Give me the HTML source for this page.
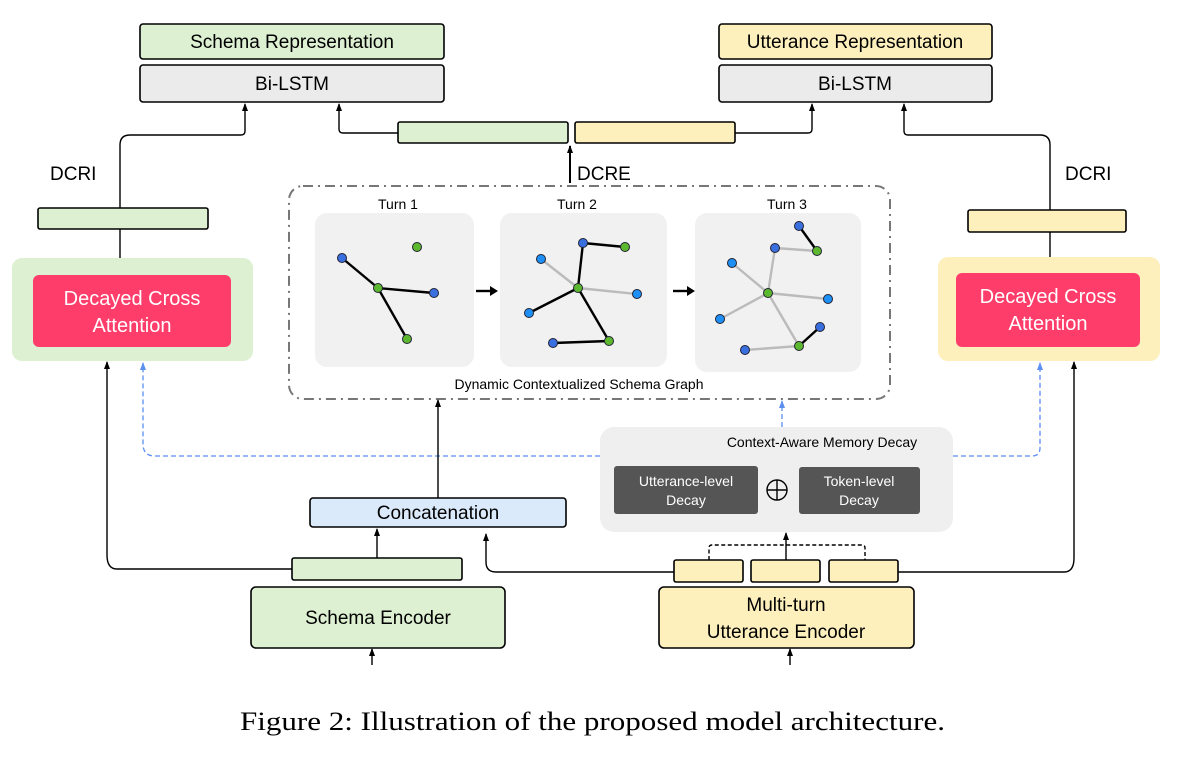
<!DOCTYPE html>
<html><head><meta charset="utf-8"><style>
html,body{margin:0;padding:0;background:#fff;}
svg text{font-family:"Liberation Sans",Arial,sans-serif;}
</style></head><body>
<svg width="1180" height="755" viewBox="0 0 1180 755" xmlns="http://www.w3.org/2000/svg">
<defs>
<marker id="a" markerWidth="8" markerHeight="8" refX="7" refY="4" orient="auto" markerUnits="userSpaceOnUse" viewBox="0 0 8 8"><path d="M0,1 L8,4 L0,7 z" fill="#000"/></marker>
<marker id="ab" markerWidth="8" markerHeight="8" refX="7" refY="4" orient="auto" markerUnits="userSpaceOnUse" viewBox="0 0 8 8"><path d="M0,1 L8,4 L0,7 z" fill="#5b8ff0"/></marker>
</defs>
<g stroke="#000" stroke-width="1.6">
<rect x="140" y="24" width="304" height="35" rx="3" fill="#ddf0d2"/>
<rect x="140" y="65" width="304" height="37" rx="3" fill="#ebebeb"/>
<rect x="719" y="24" width="273" height="35" rx="3" fill="#fdf0bd"/>
<rect x="719" y="65" width="273" height="37" rx="3" fill="#ebebeb"/>
<rect x="398" y="122" width="170" height="21" rx="2" fill="#ddf0d2"/>
<rect x="575" y="122" width="160" height="21" rx="2" fill="#fdf0bd"/>
<rect x="38" y="208" width="170" height="21" rx="2" fill="#ddf0d2"/>
<rect x="968" y="210" width="158" height="22" rx="2" fill="#fdf0bd"/>
</g>
<text x="292" y="48" font-size="19" text-anchor="middle">Schema Representation</text>
<text x="292" y="90" font-size="19" text-anchor="middle">Bi-LSTM</text>
<text x="855" y="48" font-size="19" text-anchor="middle">Utterance Representation</text>
<text x="855" y="90" font-size="19" text-anchor="middle">Bi-LSTM</text>
<g fill="none" stroke="#000" stroke-width="1.4">
<path d="M120,208 V145 Q120,135 130,135 H241 Q245,135 245,131 V104" marker-end="url(#a)"/>
<path d="M398,133 H343 Q339,133 339,129 V104" marker-end="url(#a)"/>
<path d="M735,133 H808 Q812,133 812,129 V104" marker-end="url(#a)"/>
<path d="M1050,210 V145 Q1050,135 1040,135 H908 Q904,135 904,131 V104" marker-end="url(#a)"/>
<path d="M120,229 V258"/>
<path d="M1050,232 V258"/>
<path d="M570,183 V146" stroke-width="2" marker-end="url(#a)"/>
</g>
<text x="50" y="180" font-size="19">DCRI</text>
<text x="1065" y="180" font-size="19">DCRI</text>
<text x="577" y="180" font-size="19">DCRE</text>
<rect x="12" y="258" width="241" height="103" rx="10" fill="#ddf0d2"/>
<rect x="33" y="275" width="198" height="72" rx="6" fill="#fe3d6b"/>
<text x="132" y="305" font-size="20" fill="#fff" text-anchor="middle">Decayed Cross</text>
<text x="132" y="332" font-size="20" fill="#fff" text-anchor="middle">Attention</text>
<rect x="938" y="257" width="222" height="104" rx="10" fill="#fdf0bd"/>
<rect x="956" y="273" width="184" height="74" rx="6" fill="#fe3d6b"/>
<text x="1048" y="303" font-size="20" fill="#fff" text-anchor="middle">Decayed Cross</text>
<text x="1048" y="330" font-size="20" fill="#fff" text-anchor="middle">Attention</text>
<rect x="289" y="186" width="601" height="213" rx="14" fill="none" stroke="#777" stroke-width="2" stroke-dasharray="10,5,2,5"/>
<rect x="315" y="213" width="159" height="154" rx="12" fill="#f1f1f1"/>
<rect x="500" y="213" width="167" height="154" rx="12" fill="#f1f1f1"/>
<rect x="695" y="213" width="166" height="159" rx="12" fill="#f1f1f1"/>
<text x="398" y="209" font-size="14" text-anchor="middle">Turn 1</text>
<text x="577" y="209" font-size="14" text-anchor="middle">Turn 2</text>
<text x="787" y="209" font-size="14" text-anchor="middle">Turn 3</text>
<text x="579" y="389" font-size="14" text-anchor="middle">Dynamic Contextualized Schema Graph</text>
<g stroke="#000" stroke-width="2.4">
<line x1="342" y1="258" x2="378" y2="288"/><line x1="378" y1="288" x2="434" y2="293"/><line x1="378" y1="288" x2="407" y2="339"/>
<line x1="583" y1="243" x2="625" y2="247"/><line x1="583" y1="243" x2="578" y2="288"/><line x1="578" y1="288" x2="529" y2="313"/><line x1="578" y1="288" x2="609" y2="341"/><line x1="553" y1="343" x2="609" y2="341"/>
<line x1="799" y1="226" x2="817" y2="251"/><line x1="820" y1="327" x2="799" y2="346"/>
</g>
<g stroke="#bbb" stroke-width="2.4">
<line x1="541" y1="259" x2="578" y2="288"/><line x1="578" y1="288" x2="637" y2="294"/>
<line x1="775" y1="248" x2="817" y2="251"/><line x1="775" y1="248" x2="768" y2="293"/><line x1="732" y1="263" x2="768" y2="293"/><line x1="768" y1="293" x2="828" y2="299"/><line x1="768" y1="293" x2="720" y2="319"/><line x1="768" y1="293" x2="799" y2="346"/><line x1="745" y1="350" x2="799" y2="346"/>
</g>
<g stroke="#223" stroke-width="1">
<g fill="#3a6fe0">
<circle cx="342" cy="258" r="4.5"/><circle cx="434" cy="293" r="4.5"/><circle cx="583" cy="243" r="4.5"/><circle cx="553" cy="343" r="4.5"/><circle cx="799" cy="226" r="4.5"/><circle cx="775" cy="248" r="4.5"/><circle cx="820" cy="327" r="4.5"/><circle cx="745" cy="350" r="4.5"/>
</g>
<g fill="#1e90f5">
<circle cx="541" cy="259" r="4.5"/><circle cx="637" cy="294" r="4.5"/><circle cx="529" cy="313" r="4.5"/><circle cx="732" cy="263" r="4.5"/><circle cx="828" cy="299" r="4.5"/><circle cx="720" cy="319" r="4.5"/>
</g>
<g fill="#5cb82e">
<circle cx="417" cy="247" r="4.5"/><circle cx="378" cy="288" r="4.5"/><circle cx="407" cy="339" r="4.5"/><circle cx="625" cy="247" r="4.5"/><circle cx="578" cy="288" r="4.5"/><circle cx="609" cy="341" r="4.5"/><circle cx="817" cy="251" r="4.5"/><circle cx="768" cy="293" r="4.5"/><circle cx="799" cy="346" r="4.5"/>
</g>
</g>
<g stroke="#000" stroke-width="2.4"><line x1="476" y1="291" x2="491" y2="291"/><line x1="673" y1="291" x2="688" y2="291"/></g>
<path d="M490,286 L498,291 L490,296z M687,286 L695,291 L687,296z" fill="#000"/>
<g fill="none" stroke="#5b8ff0" stroke-width="1.3" stroke-dasharray="5,3">
<path d="M600,456 H155 Q143,456 143,444 V363" marker-end="url(#ab)"/>
<path d="M953,456 H1032 Q1040,456 1040,448 V363" marker-end="url(#ab)"/>
<path d="M782,427 V401" marker-end="url(#ab)"/>
</g>
<rect x="600" y="427" width="353" height="105" rx="14" fill="#efefef"/>
<text x="822" y="447" font-size="14" text-anchor="middle">Context-Aware Memory Decay</text>
<rect x="614" y="466" width="144" height="48" rx="3" fill="#555"/>
<rect x="799" y="467" width="121" height="47" rx="3" fill="#555"/>
<text x="686" y="486" font-size="14" fill="#fff" text-anchor="middle">Utterance-level</text>
<text x="686" y="505" font-size="14" fill="#fff" text-anchor="middle">Decay</text>
<text x="859" y="486" font-size="14" fill="#fff" text-anchor="middle">Token-level</text>
<text x="859" y="505" font-size="14" fill="#fff" text-anchor="middle">Decay</text>
<circle cx="777" cy="490" r="10" fill="none" stroke="#000" stroke-width="1.4"/>
<path d="M767,490 H787 M777,480 V500" stroke="#000" stroke-width="1.4"/>
<g stroke="#000" stroke-width="1.6">
<rect x="310" y="498" width="256" height="29" rx="3" fill="#dbeafb"/>
<rect x="292" y="558" width="170" height="22" rx="2" fill="#ddf0d2"/>
<rect x="251" y="587" width="254" height="61" rx="5" fill="#ddf0d2"/>
<rect x="674" y="560" width="69" height="22" rx="2" fill="#fdf0bd"/>
<rect x="751" y="560" width="69" height="22" rx="2" fill="#fdf0bd"/>
<rect x="829" y="560" width="69" height="22" rx="2" fill="#fdf0bd"/>
<rect x="659" y="587" width="255" height="61" rx="5" fill="#fdf0bd"/>
</g>
<text x="438" y="519" font-size="19" text-anchor="middle">Concatenation</text>
<text x="378" y="624" font-size="19" text-anchor="middle">Schema Encoder</text>
<text x="786" y="611" font-size="19" text-anchor="middle">Multi-turn</text>
<text x="786" y="638" font-size="19" text-anchor="middle">Utterance Encoder</text>
<g fill="none" stroke="#000" stroke-width="1.4">
<path d="M438,498 V400" marker-end="url(#a)"/>
<path d="M377,558 V529" marker-end="url(#a)"/>
<path d="M292,569 H117 Q107,569 107,555 V362" marker-end="url(#a)"/>
<path d="M674,572 H496 Q486,572 486,562 V534" marker-end="url(#a)"/>
<path d="M898,572 H1064 Q1074,572 1074,558 V362" marker-end="url(#a)"/>
<path d="M372,665 V649" marker-end="url(#a)"/>
<path d="M790,665 V649" marker-end="url(#a)"/>
<path d="M786,560 V533" marker-end="url(#a)"/>
<path d="M709,560 V548 Q709,545 712,545 H862 Q865,545 865,548 V560" stroke-dasharray="4,2.5"/>
</g>
<text x="240" y="730" font-size="26" textLength="705" lengthAdjust="spacingAndGlyphs" style="font-family:'Liberation Serif',serif">Figure 2: Illustration of the proposed model architecture.</text>
</svg>
</body></html>
